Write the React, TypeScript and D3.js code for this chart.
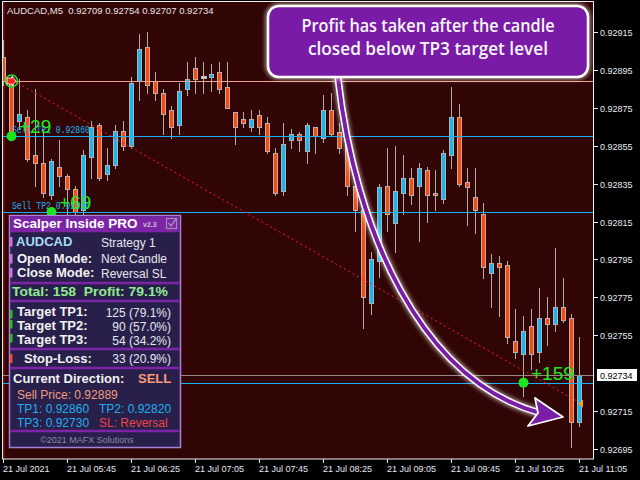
import React from "react";
import * as d3 from "d3";

const header = "AUDCAD,M5  0.92709 0.92754 0.92707 0.92734";

const opens = [
  0.92902, 0.92889, 0.92868, 0.9287, 0.9285, 0.92846, 0.92829, 0.92844, 0.92839, 0.92832,
  0.92821, 0.92849, 0.92866, 0.9284, 0.92845, 0.92863, 0.92855, 0.92889, 0.92907, 0.92889,
  0.92883, 0.92874, 0.92866, 0.92885, 0.92896, 0.92891, 0.92891, 0.92894, 0.92886, 0.92873,
  0.92869, 0.92865, 0.92871, 0.92867, 0.92851, 0.92831, 0.92858, 0.92861, 0.92852, 0.92865,
  0.92859, 0.92874, 0.92862, 0.92856, 0.92834, 0.92821, 0.92772, 0.92794, 0.92834, 0.92814,
  0.9283, 0.92838, 0.92834, 0.92842, 0.9283, 0.92827, 0.9285, 0.9287, 0.92836, 0.92828,
  0.92819, 0.92788, 0.92793, 0.92792, 0.92752, 0.92745, 0.9276, 0.92746, 0.92764, 0.92761,
  0.9277, 0.92764, 0.92709,
];
const highs = [
  0.92911, 0.92891, 0.9289, 0.92874, 0.92885, 0.92864, 0.92848, 0.92858, 0.9284, 0.92834,
  0.92853, 0.92868, 0.92867, 0.92854, 0.92866, 0.92868, 0.92891, 0.92914, 0.92915, 0.92894,
  0.92885, 0.92876, 0.92888, 0.92899, 0.92902, 0.92899, 0.92898, 0.92899, 0.92899, 0.92873,
  0.92873, 0.92874, 0.92874, 0.9287, 0.92854, 0.92867, 0.92864, 0.92862, 0.92867, 0.92865,
  0.92882, 0.92883, 0.92867, 0.92858, 0.92834, 0.92821, 0.92799, 0.92835, 0.92854, 0.92855,
  0.9285, 0.92843, 0.92846, 0.92844, 0.92842, 0.92853, 0.92886, 0.92877, 0.92843, 0.92843,
  0.92825, 0.92798, 0.92797, 0.92794, 0.92769, 0.92765, 0.92769, 0.9278, 0.92775, 0.92801,
  0.92785, 0.92766, 0.92754,
];
const lows = [
  0.92887, 0.92861, 0.92864, 0.92847, 0.92834, 0.92828, 0.92827, 0.92834, 0.92819, 0.92817,
  0.92818, 0.92838, 0.92837, 0.92837, 0.92843, 0.92853, 0.92854, 0.92879, 0.92883, 0.92879,
  0.92861, 0.92859, 0.92861, 0.92882, 0.92883, 0.92883, 0.92884, 0.92883, 0.92875, 0.92856,
  0.92865, 0.92863, 0.92861, 0.92851, 0.92829, 0.92829, 0.92854, 0.92852, 0.92846, 0.92851,
  0.92857, 0.9286, 0.92851, 0.92829, 0.9281, 0.92759, 0.92766, 0.92786, 0.9281, 0.92799,
  0.92819, 0.92824, 0.92805, 0.92815, 0.92821, 0.92825, 0.92843, 0.92834, 0.92813, 0.92809,
  0.92785, 0.9277, 0.92765, 0.92751, 0.92743, 0.92723, 0.92737, 0.92741, 0.9275, 0.92757,
  0.92762, 0.92696, 0.92707,
];
const closes = [
  0.92889, 0.92862, 0.92872, 0.92848, 0.92846, 0.9283, 0.92847, 0.92839, 0.92832, 0.9282,
  0.9285, 0.92865, 0.92838, 0.92845, 0.92863, 0.92855, 0.92888, 0.92906, 0.92887, 0.92883,
  0.92872, 0.92865, 0.92884, 0.9289, 0.9289, 0.92891, 0.92893, 0.92885, 0.92875, 0.92865,
  0.92867, 0.92869, 0.92865, 0.92852, 0.9283, 0.92856, 0.92861, 0.92858, 0.92866, 0.9286,
  0.92874, 0.92861, 0.92854, 0.92834, 0.92821, 0.92775, 0.92795, 0.92833, 0.92819, 0.92831,
  0.92838, 0.92829, 0.92843, 0.92829, 0.92829, 0.92851, 0.9287, 0.92835, 0.92833, 0.92821,
  0.92791, 0.92793, 0.92791, 0.92754, 0.92746, 0.92757, 0.92745, 0.92764, 0.92761, 0.9277,
  0.92763, 0.92709, 0.92734,
];

const xTickIndex = [0, 8, 16, 24, 32, 40, 48, 56, 64, 72];
const xTickLabels = [
  "21 Jul 2021", "21 Jul 05:45", "21 Jul 06:25", "21 Jul 07:05", "21 Jul 07:45",
  "21 Jul 08:25", "21 Jul 09:05", "21 Jul 09:45", "21 Jul 10:25", "21 Jul 11:05",
];
const yTicks = [0.92915, 0.92895, 0.92875, 0.92855, 0.92835, 0.92815, 0.92795, 0.92775, 0.92755, 0.92715, 0.92695];

const entryPrice = 0.92889;
const tpLevels = [0.9286, 0.9282, 0.9273];
const tpTexts = ["Sell TP1 0.92860", "Sell TP2 0.92820"];
const currentPrice = 0.92734;
const hitIndex = [1, 6, 65];
const hitPrice = [0.9286, 0.9282, 0.9273];
const hitLabels = ["+29", "+69", "+159"];
const trendIdx = [1.875, 71.875];
const trendPrice = [0.92888, 0.9272];
const exitIdx = 72;
const exitPrice = 0.92719;
const signalIdx = 1;

const calloutLines = ["Profit has taken after the candle", "closed below TP3 target level"];

export default function App() {
  const W = 640, H = 480;
  const plotL = 2, plotR = 594, plotT = 2, plotB = 459;
  const x = d3.scaleLinear().domain([0, 72]).range([3, 579]);
  const y = d3.scaleLinear().domain([0.92695, 0.92915]).range([449, 32]);

  const trendGen = d3.line<number>().x((d, i) => x(trendIdx[i])).y((d) => y(d));
  const arrowPath = "M338,78 C355,230 420,380 540,413";

  const labelFont = "'Liberation Sans', Arial, sans-serif";
  const cx0 = Math.round(x(signalIdx));
  const cy0 = Math.round(y(entryPrice));

  return (
    <svg width={W} height={H} style={{ position: "fixed", left: 0, top: 0, background: "#000" }} fontFamily={labelFont}>
      <defs>
        <clipPath id="plotClip">
          <rect x={plotL + 0.5} y={plotT} width={plotR - plotL - 1} height={plotB - plotT} />
        </clipPath>
        <filter id="glow" x="-20%" y="-20%" width="140%" height="140%">
          <feGaussianBlur stdDeviation="2.2" />
        </filter>
      </defs>
      <rect x={0} y={0} width={W} height={H} fill="#000" />
      <rect x={plotL} y={plotT} width={plotR - plotL} height={plotB - plotT} fill="#320505" />
      <rect x={3} y={plotT} width={2} height={plotB - plotT} fill="#6e0a0a" />

      <g clipPath="url(#plotClip)">
        {opens.map((o, i) => {
          const c = closes[i];
          const cx = Math.round(x(i));
          const yTop = Math.round(y(Math.max(o, c)));
          const yBot = Math.round(y(Math.min(o, c)));
          const doji = Math.abs(c - o) < 1e-9;
          const col = c > o ? "#14b8f5" : "#ff4a0e";
          return (
            <g key={i}>
              <line x1={cx + 0.5} x2={cx + 0.5} y1={Math.round(y(highs[i]))} y2={Math.round(y(lows[i])) + 1} stroke="#b4abab" strokeWidth={1} />
              {doji ? (
                <rect x={cx - 2} y={yTop - 1} width={6} height={3} fill="#c4c4c4" />
              ) : (
                <rect x={cx - 1.5} y={yTop + 0.5} width={4} height={Math.max(yBot - yTop, 1)} fill={col} stroke="#b8b0b0" strokeWidth={1} />
              )}
            </g>
          );
        })}

        {/* horizontal level lines */}
        <line x1={plotL} x2={plotR} y1={Math.round(y(entryPrice)) + 0.5} y2={Math.round(y(entryPrice)) + 0.5} stroke="#f2a28e" />
        {tpLevels.map((t, i) => (
          <line key={i} x1={plotL} x2={plotR} y1={Math.round(y(t)) + 0.5} y2={Math.round(y(t)) + 0.5} stroke="#18b2f8" />
        ))}
        <line x1={plotL} x2={plotR} y1={Math.round(y(currentPrice)) + 0.5} y2={Math.round(y(currentPrice)) + 0.5} stroke="#9a8686" />

        {/* trend dotted line */}
        <path d={trendGen(trendPrice) || ""} stroke="#ff1a1a" strokeWidth={1} strokeDasharray="2,3" fill="none" />

        {/* TP text labels */}
        {tpTexts.map((t, i) => (
          <text key={i} x={12} y={Math.round(y(tpLevels[i])) - 3} fill="#18b2f8" fontSize={11} fontFamily="'Liberation Mono', monospace" textLength={78} lengthAdjust="spacingAndGlyphs">{t}</text>
        ))}

        {/* hits */}
        {hitIndex.map((hi, i) => (
          <g key={i}>
            <circle cx={x(hi) + 0.5} cy={y(hitPrice[i])} r={5} fill="#1ee61e" />
            <text x={x(hi) + 8} y={y(hitPrice[i]) - 3} fill="#22e822" fontSize={19}>{hitLabels[i]}</text>
          </g>
        ))}

        {/* sell signal marker */}
        <circle cx={cx0 + 0.5} cy={cy0} r={6} fill="none" stroke="#22e022" strokeWidth={1.6} />
        <polygon points={`${cx0 - 4},${cy0 - 3} ${cx0 + 1},${cy0 - 3} ${cx0 + 1},${cy0 - 5} ${cx0 + 5},${cy0} ${cx0 + 1},${cy0 + 5} ${cx0 + 1},${cy0 + 3} ${cx0 - 4},${cy0 + 3}`} fill="#ff2020" stroke="#fff" strokeWidth={0.8} />

        {/* exit marker */}
        <polygon points={`${x(exitIdx) - 1},${y(exitPrice)} ${x(exitIdx) + 4},${y(exitPrice) - 4} ${x(exitIdx) + 4},${y(exitPrice) + 4}`} fill="#f0a020" />

        {/* curved arrow */}
        <path d={arrowPath} stroke="#ffffff" strokeWidth={9} fill="none" filter="url(#glow)" opacity={0.6} />
        <path d={arrowPath} stroke="#ffffff" strokeWidth={7} fill="none" />
        <path d={arrowPath} stroke="#7a1ea8" strokeWidth={4} fill="none" />
        <polygon points="535,398 563,417 528,426 538,413" fill="#7a1ea8" stroke="#fff" strokeWidth={1.8} strokeLinejoin="round" />
      </g>

      {/* plot frame */}
      <rect x={plotL + 0.5} y={plotT - 0.5} width={plotR - plotL - 1} height={plotB - plotT + 0.5} fill="none" stroke="#f0f0f0" strokeWidth={1} />

      {/* header */}
      <text x={7} y={14} fill="#e6e6e6" fontSize={9.5} style={{ whiteSpace: "pre" }}>{header}</text>

      {/* y axis */}
      {yTicks.map((t) => (
        <g key={t}>
          <line x1={plotR} x2={plotR + 4} y1={Math.round(y(t)) + 0.5} y2={Math.round(y(t)) + 0.5} stroke="#e6ecf5" />
          <text x={600} y={Math.round(y(t)) + 3.5} fill="#e6ecf5" fontSize={9}>{t.toFixed(5)}</text>
        </g>
      ))}
      <rect x={597} y={Math.round(y(currentPrice)) - 6} width={40} height={12} fill="#fff" />
      <text x={600} y={Math.round(y(currentPrice)) + 3.5} fill="#000" fontSize={9}>{currentPrice.toFixed(5)}</text>

      {/* x axis */}
      {xTickIndex.map((ti, i) => (
        <g key={ti}>
          <line x1={Math.round(x(ti)) + 0.5} x2={Math.round(x(ti)) + 0.5} y1={plotB} y2={plotB + 4} stroke="#e6ecf5" />
          <text x={Math.round(x(ti))} y={472} fill="#e6ecf5" fontSize={9}>{xTickLabels[i]}</text>
        </g>
      ))}

      {/* callout box */}
      <rect x={268} y={6} width={320} height={71} rx={11} fill="none" stroke="#fff" strokeWidth={5} filter="url(#glow)" opacity={0.6} />
      <rect x={268} y={6} width={320} height={71} rx={11} fill="#7a1ba8" stroke="#fff" strokeWidth={2.5} />
      <text x={428} y={32} textAnchor="middle" fill="#f8f8f8" fontSize={18} fontWeight={600} fontFamily="'Open Sans', 'Liberation Sans', sans-serif" textLength={253} lengthAdjust="spacingAndGlyphs">{calloutLines[0]}</text>
      <text x={428} y={55} textAnchor="middle" fill="#f8f8f8" fontSize={18} fontWeight={600} fontFamily="'Open Sans', 'Liberation Sans', sans-serif" textLength={240} lengthAdjust="spacingAndGlyphs">{calloutLines[1]}</text>

      {/* info panel */}
      <g>
        <rect x={9.5} y={215.5} width={171} height={232} fill="#28204a" stroke="#a782d8" strokeWidth={1.5} />
        <rect x={10.25} y={216.25} width={169.5} height={16} fill="#7d24a6" />
        <text x={13} y={228} fill="#fff" fontSize={13.5} fontWeight="bold">Scalper Inside PRO</text>
        <text x={143} y={227} fill="#cbbbd9" fontSize={7} fontWeight="bold">v2.3</text>
        <rect x={166.5} y={218.5} width={10} height={10} fill="none" stroke="#9e8eae" strokeWidth={1.2} />
        <path d="M168.5,223 L171,226 L176,219" fill="none" stroke="#9e8eae" strokeWidth={1.4} />

        {[237, 254, 268].map((yy) => (
          <rect key={yy} x={10} y={yy} width={2.5} height={9.5} fill="#d070e6" />
        ))}
        {[310, 320, 334].map((yy) => (
          <rect key={yy} x={10} y={yy} width={2.5} height={8.5} fill="#22c022" />
        ))}
        <rect x={10} y={354} width={2.5} height={9} fill="#f04a30" />

        {[283, 301, 349, 368, 431].map((yy) => (
          <rect key={yy} x={10.25} y={yy - 1.25} width={169.5} height={2.5} fill="#7d24a6" />
        ))}

        <text x={16} y={246} fill="#a4dcf2" fontSize={13} fontWeight="bold">AUDCAD</text>
        <text x={101} y={247} fill="#e6e6ee" fontSize={12}>Strategy 1</text>
        <text x={17} y={262.5} fill="#f2f2f2" fontSize={13} fontWeight="bold">Open Mode:</text>
        <text x={101} y={263} fill="#e6e6ee" fontSize={12}>Next Candle</text>
        <text x={17} y={277} fill="#f2f2f2" fontSize={13} fontWeight="bold">Close Mode:</text>
        <text x={101} y={278} fill="#e6e6ee" fontSize={12}>Reversal SL</text>

        <text x={12} y={296} fill="#90ea90" fontSize={13} fontWeight="bold" textLength={156} lengthAdjust="spacingAndGlyphs" style={{ whiteSpace: "pre" }}>Total: 158  Profit: 79.1%</text>

        <text x={17} y={316} fill="#f2f2f2" fontSize={13} fontWeight="bold">Target TP1:</text>
        <text x={171} y={317} textAnchor="end" fill="#e6e6ee" fontSize={12}>125 (79.1%)</text>
        <text x={17} y={330} fill="#f2f2f2" fontSize={13} fontWeight="bold">Target TP2:</text>
        <text x={171} y={331} textAnchor="end" fill="#e6e6ee" fontSize={12}>90 (57.0%)</text>
        <text x={17} y={343.5} fill="#f2f2f2" fontSize={13} fontWeight="bold">Target TP3:</text>
        <text x={171} y={344.5} textAnchor="end" fill="#e6e6ee" fontSize={12}>54 (34.2%)</text>

        <text x={24} y={362.5} fill="#f2f2f2" fontSize={13} fontWeight="bold">Stop-Loss:</text>
        <text x={171} y={363} textAnchor="end" fill="#e6e6ee" fontSize={12}>33 (20.9%)</text>

        <text x={13} y={383} fill="#f2f2f2" fontSize={13} fontWeight="bold">Current Direction:</text>
        <text x={138} y={383} fill="#ff9a78" fontSize={13} fontWeight="bold">SELL</text>
        <text x={17} y={399} fill="#ef9c80" fontSize={12}>Sell Price: 0.92889</text>
        <text x={17} y={413} fill="#1eb0f0" fontSize={12}>TP1: 0.92860</text>
        <text x={99} y={413} fill="#1eb0f0" fontSize={12}>TP2: 0.92820</text>
        <text x={17} y={427} fill="#1eb0f0" fontSize={12}>TP3: 0.92730</text>
        <text x={99} y={427} fill="#f04444" fontSize={12}>SL: Reversal</text>
        <text x={87} y={443} textAnchor="middle" fill="#8a88a6" fontSize={9}>©2021 MAFX Solutions</text>
      </g>
    </svg>
  );
}
